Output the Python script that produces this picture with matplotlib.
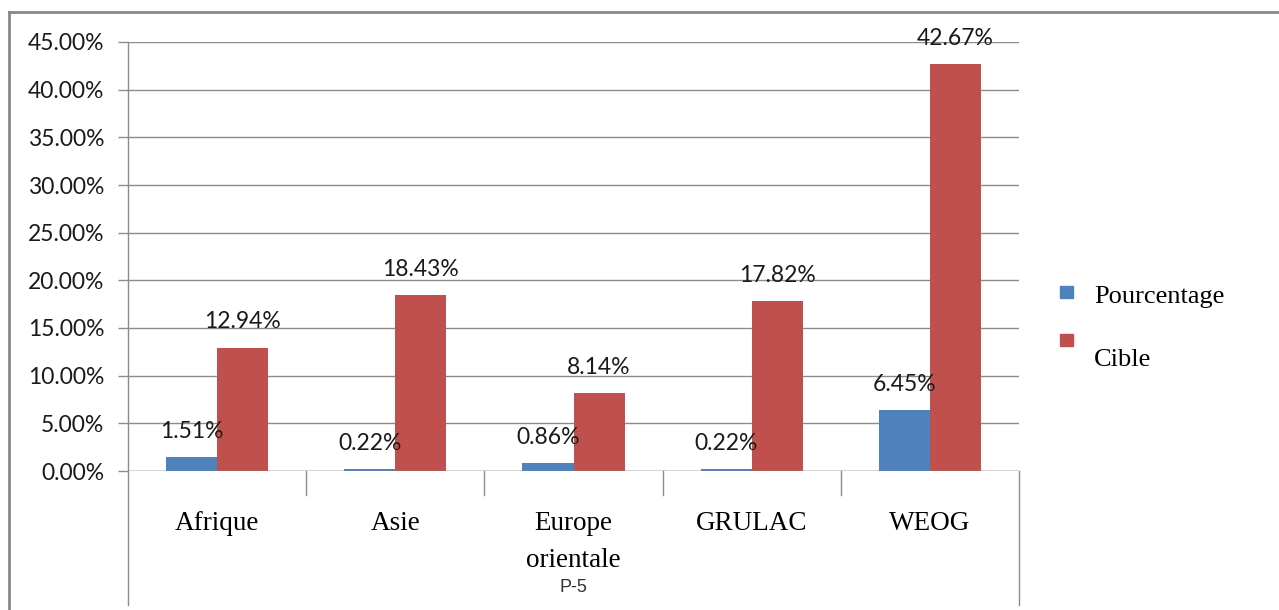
import matplotlib.pyplot as plt
from matplotlib.patches import Rectangle
from matplotlib.lines import Line2D
from matplotlib.ticker import FuncFormatter, MultipleLocator

categories = ["Afrique", "Asie", "Europe\norientale", "GRULAC", "WEOG"]
pourcentage = [1.51, 0.22, 0.86, 0.22, 6.45]
cible = [12.94, 18.43, 8.14, 17.82, 42.67]
series_names = ["Pourcentage", "Cible"]

BLUE = "#4F81BD"
RED = "#C0504D"
GRID = "#8C8C8C"
W, H = 1279, 610


def fx(x):
    return x / W


def fy(y):
    return 1 - y / H


fig = plt.figure(figsize=(W / 100, H / 100), dpi=100)
ax = fig.add_axes([fx(128), fy(471), fx(1019) - fx(128), fy(42) - fy(471)])

bw = 0.287
xs = range(len(categories))
ax.bar([x - bw / 2 for x in xs], pourcentage, bw, color=BLUE, zorder=3)
ax.bar([x + bw / 2 for x in xs], cible, bw, color=RED, zorder=3)

for x, v in zip(xs, pourcentage):
    ax.annotate(f"{v:.2f}%", (x - bw / 2, v), xytext=(0, 18), textcoords="offset points",
                ha="center", va="center", fontsize=16.5, family="Lato", color="#1a1a1a")
for x, v in zip(xs, cible):
    ax.annotate(f"{v:.2f}%", (x + bw / 2, v), xytext=(0, 18.5), textcoords="offset points",
                ha="center", va="center", fontsize=16.5, family="Lato", color="#1a1a1a")

ax.set_xlim(-0.5, 4.5)
ax.set_ylim(0, 45)
ax.yaxis.set_major_locator(MultipleLocator(5))
ax.yaxis.set_major_formatter(FuncFormatter(lambda v, p: f"{v:.2f}%"))
ax.grid(axis="y", color=GRID, linewidth=1, zorder=0)
ax.tick_params(axis="y", length=7.2, width=1, color=GRID, pad=10, labelsize=16.5)
for lab in ax.get_yticklabels():
    lab.set_family("Lato")
    lab.set_color("#1a1a1a")
ax.set_xticks([])
for s in ax.spines.values():
    s.set_visible(False)

# axis lines: left runs down below the categories, separators between groups
bot = (471 - 605) / (471 - 42)
sep = (471 - 495) / (471 - 42)
ax.plot([0, 0], [bot, 1], transform=ax.transAxes, color=GRID, lw=1, clip_on=False)
ax.plot([1, 1], [bot, 0], transform=ax.transAxes, color=GRID, lw=1, clip_on=False)
ax.axhline(0, color=GRID, lw=1, zorder=4)
tr = ax.get_xaxis_transform()
for b in [0.5, 1.5, 2.5, 3.5]:
    ax.plot([b, b], [sep, 0], transform=tr, color=GRID, lw=1, clip_on=False)

for x, c in zip(xs, categories):
    ax.annotate(c, (x, 0), xytext=(0, -29), textcoords="offset points", ha="center",
                va="top", fontsize=19.5, family="Liberation Serif", linespacing=1.6)
fig.text(fx(573), fy(588), "P-5", ha="center", va="center", fontsize=13,
         family="Liberation Sans", color="#333333")

# legend
for (y, ty), col, name in zip([(286, 297), (334, 360)], [BLUE, RED], series_names):
    fig.patches.append(Rectangle((fx(1060), fy(y + 12)), fx(13), 12 / H, transform=fig.transFigure,
                                 color=col))
    fig.text(fx(1094), fy(ty), name, ha="left", va="center", fontsize=19,
             family="Liberation Serif")

# outer frame
fig.add_artist(Line2D([fx(9), 1], [fy(12), fy(12)], color="#888888", lw=2))
fig.add_artist(Line2D([fx(9), fx(9)], [fy(12), 0], color="#888888", lw=2))

fig.savefig("out.png", dpi=100)
